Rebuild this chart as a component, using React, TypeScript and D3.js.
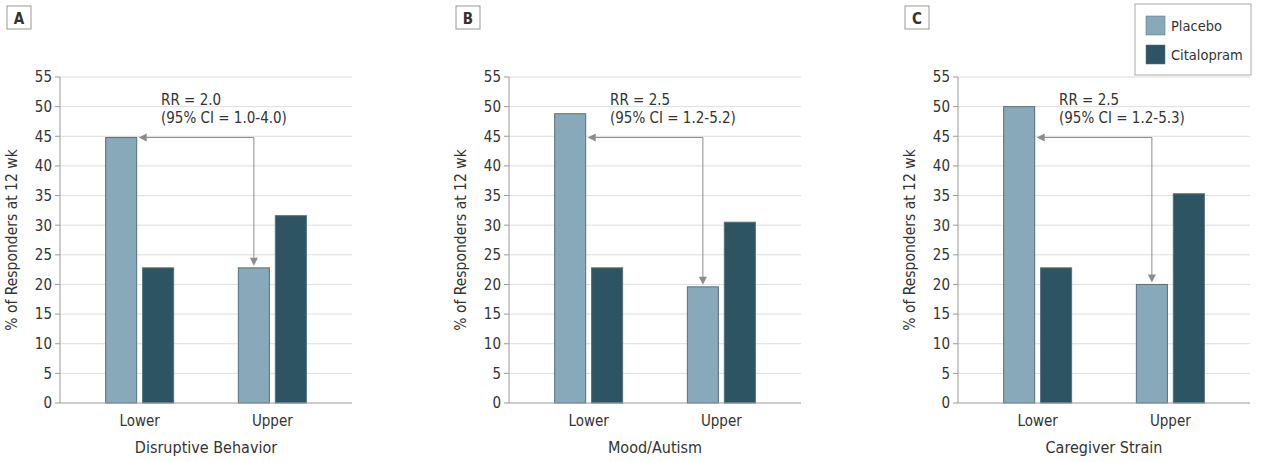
import React from "react";
import * as d3 from "d3";

// data
const groups = ["Lower", "Upper"];
const series = ["Placebo", "Citalopram"];
const panels = ["A", "B", "C"];
const domains = ["Disruptive Behavior", "Mood/Autism", "Caregiver Strain"];
const placeboValues = [
  [44.8, 22.8],
  [48.8, 19.6],
  [50.0, 20.0],
];
const citalopramValues = [
  [22.8, 31.6],
  [22.8, 30.5],
  [22.8, 35.3],
];
const rrLabels = ["RR = 2.0", "RR = 2.5", "RR = 2.5"];
const ciLabels = ["(95% CI = 1.0-4.0)", "(95% CI = 1.2-5.2)", "(95% CI = 1.2-5.3)"];
const arrowLevel = 44.8;
const yTicks = [0, 5, 10, 15, 20, 25, 30, 35, 40, 45, 50, 55];

const colors = { Placebo: "#87a9b9", Citalopram: "#2d5462" };
const FONT = "'Liberation Sans Narrow', 'DejaVu Sans Condensed', 'Open Sans', sans-serif";
const TEXT = "#333";

const W = 1261;
const H = 462;
const plotTop = 77;
const plotBottom = 403;
const plotW = 292;
const panelX = [60, 509, 958];

const y = d3.scaleLinear().domain([0, 55]).range([plotBottom, plotTop]);
const x0 = d3.scalePoint().domain(groups).range([0, plotW]).padding(0.6);
const x1 = d3.scaleBand().domain(series).range([-34, 34]).paddingInner(0.16);

const Panel = ({ idx }: { idx: number }) => {
  const left = panelX[idx];
  const vals = { Placebo: placeboValues[idx], Citalopram: citalopramValues[idx] };
  const bw = x1.bandwidth();
  const lowPlaceboRight = x0("Lower")! + x1("Placebo")! + bw;
  const upPlaceboCx = x0("Upper")! + x1("Placebo")! + bw / 2;
  const upPlaceboTop = y(vals.Placebo[1]);
  const ay = y(arrowLevel);
  const arrowColor = "#8c8c8c";

  return (
    <g transform={`translate(${left},0)`}>
      {/* panel letter */}
      <rect x={-53} y={6} width={24} height={23} fill="#fff" stroke="#999" strokeWidth={1} />
      <text x={-41} y={23.5} textAnchor="middle" fontSize={15} fontWeight="bold" fill={TEXT}>
        {panels[idx]}
      </text>

      {/* grid */}
      {yTicks.filter((t) => t > 0).map((t) => (
        <line key={t} x1={0} x2={plotW} y1={y(t)} y2={y(t)} stroke="#dedede" strokeWidth={1} />
      ))}

      {/* y axis */}
      <line x1={0} x2={0} y1={plotTop} y2={plotBottom} stroke="#999" />
      {yTicks.map((t) => (
        <g key={t}>
          <line x1={-5} x2={0} y1={y(t)} y2={y(t)} stroke="#999" />
          <text x={-8} y={y(t)} dy="0.36em" textAnchor="end" fontSize={15} fill={TEXT}>
            {t}
          </text>
        </g>
      ))}
      <text
        transform={`translate(${-43},${(plotTop + plotBottom) / 2}) rotate(-90)`}
        textAnchor="middle"
        fontSize={15.5}
        fill={TEXT}
      >
        % of Responders at 12 wk
      </text>

      {/* bars */}
      {groups.map((g, gi) =>
        series.map((s) => (
          <rect
            key={g + s}
            x={x0(g)! + x1(s)!}
            y={y(vals[s][gi])}
            width={bw}
            height={plotBottom - y(vals[s][gi])}
            fill={colors[s]}
            stroke="#55707c"
            strokeWidth={1}
          />
        ))
      )}

      {/* x axis */}
      <line x1={0} x2={plotW} y1={plotBottom} y2={plotBottom} stroke="#999" />
      {groups.map((g) => (
        <text key={g} x={x0(g)} y={426} textAnchor="middle" fontSize={15} fill={TEXT}>
          {g}
        </text>
      ))}
      <text x={x0("Lower")! / 2 + x0("Upper")! / 2} y={453} textAnchor="middle" fontSize={16} fill={TEXT}>
        {domains[idx]}
      </text>

      {/* RR bracket arrow */}
      <path
        d={`M${lowPlaceboRight + 8},${ay} H${upPlaceboCx} V${upPlaceboTop - 8}`}
        fill="none"
        stroke={arrowColor}
        strokeWidth={1}
      />
      <path d={`M${lowPlaceboRight + 2},${ay} l8,-4 v8 z`} fill={arrowColor} />
      <path d={`M${upPlaceboCx},${upPlaceboTop - 2} l-4,-8 h8 z`} fill={arrowColor} />
      <text x={101} y={y(50) - 2} fontSize={15} fill={TEXT}>
        {rrLabels[idx]}
      </text>
      <text x={101} y={y(50) + 16} fontSize={15} fill={TEXT}>
        {ciLabels[idx]}
      </text>
    </g>
  );
};

const Legend = () => (
  <g transform="translate(1135,4)">
    <rect x={0} y={0} width={116} height={71} fill="#fff" stroke="#aaa" strokeWidth={1} />
    {series.map((s, i) => (
      <g key={s} transform={`translate(11,${12 + i * 29})`}>
        <rect width={19} height={19} fill={colors[s]} stroke="#55707c" strokeWidth={0.5} />
        <text x={25} y={10} dy="0.36em" fontSize={14.5} fill={TEXT}>
          {s}
        </text>
      </g>
    ))}
  </g>
);

export default function App() {
  return (
    <svg
      width={W}
      height={H}
      style={{ position: "absolute", left: 0, top: 0, background: "#fff", fontFamily: FONT }}
    >
      <rect width={W} height={H} fill="#fff" />
      {panels.map((p, i) => (
        <Panel key={p} idx={i} />
      ))}
      <Legend />
    </svg>
  );
}
